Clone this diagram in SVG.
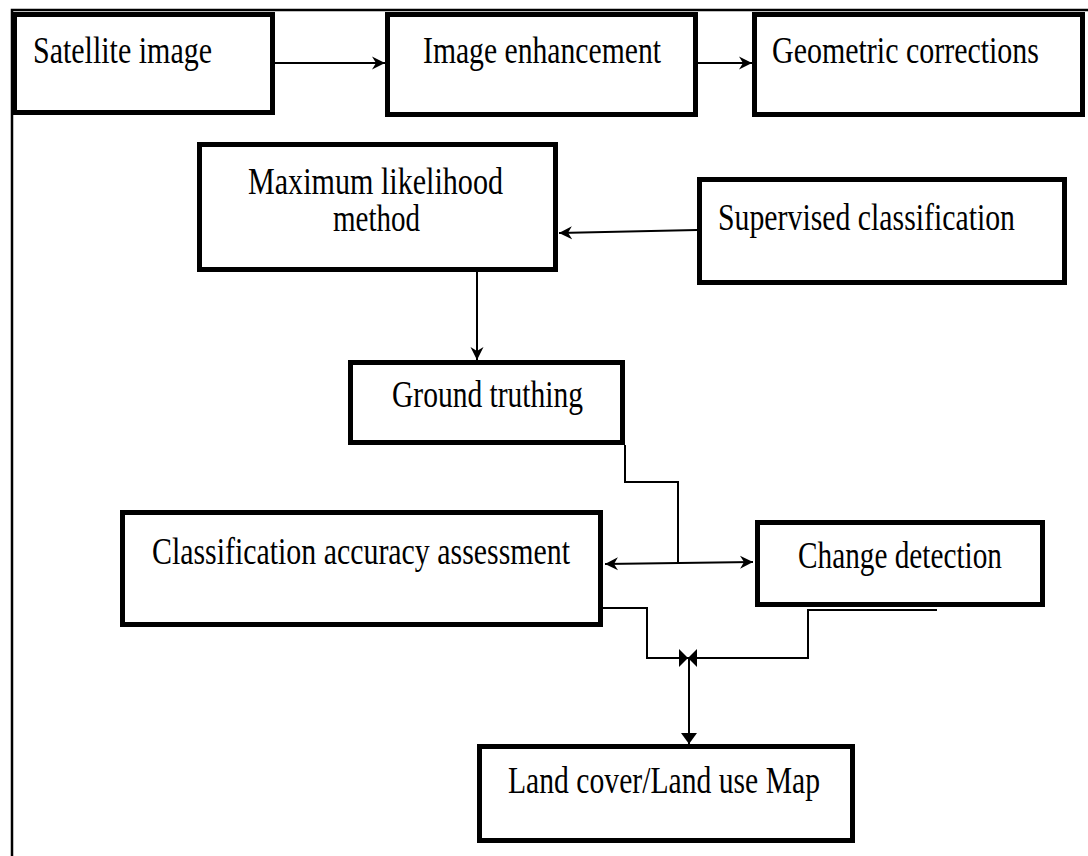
<svg xmlns="http://www.w3.org/2000/svg" width="1088" height="856" viewBox="0 0 1088 856">
<style>
.box{fill:#fff;stroke:#000;stroke-width:5}
.t{font-family:"Liberation Serif","Times New Roman",serif;font-size:37px;fill:#000}
.c{fill:none;stroke:#000;stroke-width:2}
.frame{fill:none;stroke:#000;stroke-width:2.5}
</style>
<defs>
<marker id="ah" markerUnits="userSpaceOnUse" markerWidth="14" markerHeight="14" refX="13" refY="7" orient="auto-start-reverse">
<path d="M0,0.5 L13,7 L0,13.5 L4,7 z" fill="#000"/>
</marker>
<marker id="tri" markerUnits="userSpaceOnUse" markerWidth="12" markerHeight="16" refX="11" refY="8" orient="auto">
<path d="M0,0 L11,8 L0,16 z" fill="#000"/>
</marker>
<marker id="bow" markerUnits="userSpaceOnUse" markerWidth="10" markerHeight="18" refX="9" refY="9" orient="auto">
<path d="M0,9 L9,0 L9,18 z" fill="#000" transform="rotate(180 4.5 9)"/>
</marker>
</defs>
<rect width="1088" height="856" fill="#fff"/>
<path class="frame" d="M12,856 V10 H1088"/>

<g id="connectors">
<line class="c" x1="275" y1="63" x2="385" y2="63" marker-end="url(#ah)"/>
<line class="c" x1="698" y1="63" x2="752" y2="63" marker-end="url(#ah)"/>
<line class="c" x1="697" y1="230" x2="559" y2="233" marker-end="url(#ah)"/>
<line class="c" x1="477" y1="272" x2="477" y2="360" marker-end="url(#ah)"/>
<path class="c" d="M625,445 V482 H678 V563"/>
<line class="c" x1="605" y1="564" x2="753" y2="562" marker-start="url(#ah)" marker-end="url(#ah)"/>
<path class="c" d="M603,608 H647 V658 H688" marker-end="url(#bow)"/>
<path class="c" d="M937,610 H808 V658 H688" marker-end="url(#bow)"/>
<line class="c" x1="689" y1="658" x2="689" y2="744" marker-end="url(#tri)"/>
</g>

<g id="satellite">
<rect class="box" x="14.5" y="14.5" width="258" height="98"/>
<text class="t" x="33" y="63" textLength="179" lengthAdjust="spacingAndGlyphs">Satellite image</text>
</g>
<g id="enhancement">
<rect class="box" x="387.5" y="14.5" width="308" height="100"/>
<text class="t" x="423" y="63" textLength="238" lengthAdjust="spacingAndGlyphs">Image enhancement</text>
</g>
<g id="geometric">
<rect class="box" x="754.5" y="14.5" width="328" height="100"/>
<text class="t" x="772" y="63" textLength="267" lengthAdjust="spacingAndGlyphs">Geometric corrections</text>
</g>
<g id="maxlike">
<rect class="box" x="199.5" y="144.5" width="356" height="125"/>
<text class="t" x="248" y="194" textLength="255" lengthAdjust="spacingAndGlyphs">Maximum likelihood</text>
<text class="t" x="333" y="231" textLength="87" lengthAdjust="spacingAndGlyphs">method</text>
</g>
<g id="supervised">
<rect class="box" x="699.5" y="179.5" width="365" height="103"/>
<text class="t" x="718" y="230" textLength="297" lengthAdjust="spacingAndGlyphs">Supervised classification</text>
</g>
<g id="ground">
<rect class="box" x="350.5" y="362.5" width="272" height="80"/>
<text class="t" x="392" y="407" textLength="191" lengthAdjust="spacingAndGlyphs">Ground truthing</text>
</g>
<g id="accuracy">
<rect class="box" x="122.5" y="512.5" width="478" height="112"/>
<text class="t" x="152" y="564" textLength="418" lengthAdjust="spacingAndGlyphs">Classification accuracy assessment</text>
</g>
<g id="change">
<rect class="box" x="757.5" y="522.5" width="285" height="82"/>
<text class="t" x="798" y="568" textLength="204" lengthAdjust="spacingAndGlyphs">Change detection</text>
</g>
<g id="landcover">
<rect class="box" x="479.5" y="746.5" width="373" height="94"/>
<text class="t" x="508" y="793" textLength="312" lengthAdjust="spacingAndGlyphs">Land cover/Land use Map</text>
</g>
</svg>
